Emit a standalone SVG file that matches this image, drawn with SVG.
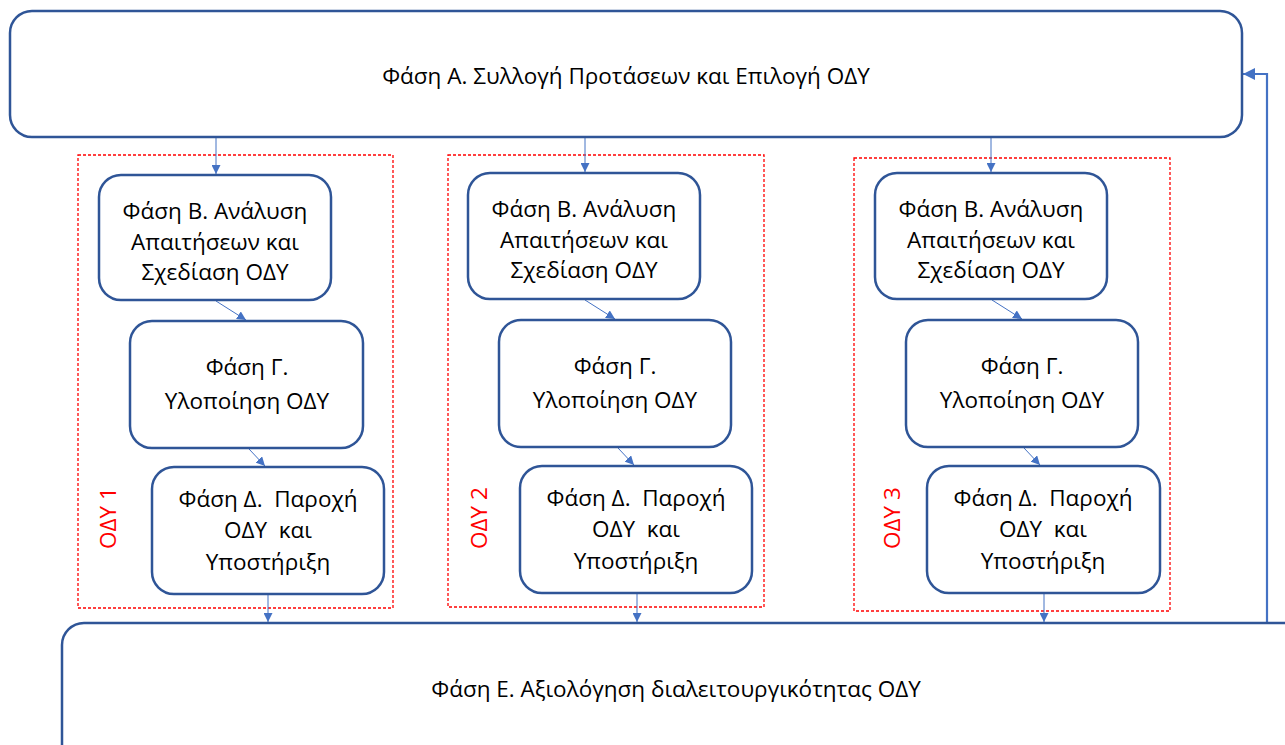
<svg xmlns="http://www.w3.org/2000/svg" width="1285" height="745" viewBox="0 0 1285 745">
<defs>
<style>
.box{fill:#fff;stroke:#2F5597;stroke-width:2.5}
.grp{fill:none;stroke:#FF0000;stroke-width:1.3;stroke-dasharray:3 2}
.t{font-family:"Open Sans","Liberation Sans",sans-serif;font-size:22.5px;fill:#000;text-anchor:middle;white-space:pre}
.lbl{font-family:"Open Sans","Liberation Sans",sans-serif;font-size:22.5px;fill:#FF0000;text-anchor:middle}
.c{fill:none;stroke:#4472C4;stroke-width:1}
.fb{fill:none;stroke:#4472C4;stroke-width:2.2}
</style>
<marker id="ah" viewBox="0 0 10 10" refX="10" refY="5" markerWidth="9" markerHeight="9" markerUnits="userSpaceOnUse" orient="auto">
<path d="M0,0 L10,5 L0,10 z" fill="#4472C4"/>
</marker>
<marker id="ahb" viewBox="0 0 10 10" refX="10" refY="5" markerWidth="12" markerHeight="12" markerUnits="userSpaceOnUse" orient="auto">
<path d="M0,0 L10,5 L0,10 z" fill="#4472C4"/>
</marker>
</defs>

<g id="groups">
<rect class="grp" x="78" y="155" width="315" height="453"/>
<text class="lbl" transform="translate(116,518) rotate(-90)">ΟΔΥ 1</text>
<rect class="grp" x="448" y="155" width="316" height="452"/>
<text class="lbl" transform="translate(487,518) rotate(-90)">ΟΔΥ 2</text>
<rect class="grp" x="854" y="158" width="316" height="453"/>
<text class="lbl" transform="translate(900,518) rotate(-90)">ΟΔΥ 3</text>
</g>

<g id="connectors">
<line class="c" x1="216" y1="138" x2="216" y2="174" marker-end="url(#ah)"/>
<line class="c" x1="585" y1="138" x2="585" y2="172" marker-end="url(#ah)"/>
<line class="c" x1="991" y1="138" x2="991" y2="172" marker-end="url(#ah)"/>
<line class="c" x1="216" y1="301" x2="246" y2="320" marker-end="url(#ah)"/>
<line class="c" x1="585" y1="300" x2="615" y2="319" marker-end="url(#ah)"/>
<line class="c" x1="992" y1="300" x2="1022" y2="319" marker-end="url(#ah)"/>
<line class="c" x1="249" y1="449" x2="265" y2="466" marker-end="url(#ah)"/>
<line class="c" x1="618" y1="448" x2="634" y2="465" marker-end="url(#ah)"/>
<line class="c" x1="1024" y1="448" x2="1040" y2="465" marker-end="url(#ah)"/>
<line class="c" x1="268" y1="595" x2="268" y2="622" marker-end="url(#ah)"/>
<line class="c" x1="637" y1="594" x2="637" y2="622" marker-end="url(#ah)"/>
<line class="c" x1="1044" y1="594" x2="1044" y2="622" marker-end="url(#ah)"/>
<polyline class="fb" points="1267,623 1267,74 1243,74" marker-end="url(#ahb)"/>
</g>

<g id="phaseA">
<rect class="box" x="10" y="11" width="1232" height="126" rx="22"/>
<text class="t" x="626" y="84">Φάση Α. Συλλογή Προτάσεων και Επιλογή ΟΔΥ</text>
</g>

<g id="phaseE">
<rect class="box" x="62" y="623" width="1250" height="160" rx="22"/>
<text class="t" x="676" y="697">Φάση Ε. Αξιολόγηση διαλειτουργικότητας ΟΔΥ</text>
</g>

<g id="B1">
<rect class="box" x="99" y="175" width="232" height="125" rx="22"/>
<text class="t" x="215" y="219">Φάση Β. Ανάλυση</text>
<text class="t" x="215" y="250">Απαιτήσεων και</text>
<text class="t" x="215" y="280">Σχεδίαση ΟΔΥ</text>
</g>
<g id="G1">
<rect class="box" x="130" y="321" width="233" height="127" rx="22"/>
<text class="t" x="247" y="375">Φάση Γ.</text>
<text class="t" x="247" y="409">Υλοποίηση ΟΔΥ</text>
</g>
<g id="D1">
<rect class="box" x="152" y="467" width="232" height="127" rx="22"/>
<text class="t" x="268" y="507">Φάση Δ.  Παροχή</text>
<text class="t" x="268" y="538">ΟΔΥ  και</text>
<text class="t" x="268" y="570">Υποστήριξη</text>
</g>

<g id="B2">
<rect class="box" x="468" y="173" width="232" height="126" rx="22"/>
<text class="t" x="584" y="217">Φάση Β. Ανάλυση</text>
<text class="t" x="584" y="248">Απαιτήσεων και</text>
<text class="t" x="584" y="278">Σχεδίαση ΟΔΥ</text>
</g>
<g id="G2">
<rect class="box" x="499" y="320" width="232" height="127" rx="22"/>
<text class="t" x="615" y="374">Φάση Γ.</text>
<text class="t" x="615" y="408">Υλοποίηση ΟΔΥ</text>
</g>
<g id="D2">
<rect class="box" x="520" y="466" width="232" height="127" rx="22"/>
<text class="t" x="636" y="506">Φάση Δ.  Παροχή</text>
<text class="t" x="636" y="537">ΟΔΥ  και</text>
<text class="t" x="636" y="569">Υποστήριξη</text>
</g>

<g id="B3">
<rect class="box" x="875" y="173" width="232" height="126" rx="22"/>
<text class="t" x="991" y="217">Φάση Β. Ανάλυση</text>
<text class="t" x="991" y="248">Απαιτήσεων και</text>
<text class="t" x="991" y="278">Σχεδίαση ΟΔΥ</text>
</g>
<g id="G3">
<rect class="box" x="906" y="320" width="232" height="127" rx="22"/>
<text class="t" x="1022" y="374">Φάση Γ.</text>
<text class="t" x="1022" y="408">Υλοποίηση ΟΔΥ</text>
</g>
<g id="D3">
<rect class="box" x="927" y="466" width="233" height="127" rx="22"/>
<text class="t" x="1043" y="506">Φάση Δ.  Παροχή</text>
<text class="t" x="1043" y="537">ΟΔΥ  και</text>
<text class="t" x="1043" y="569">Υποστήριξη</text>
</g>
</svg>
